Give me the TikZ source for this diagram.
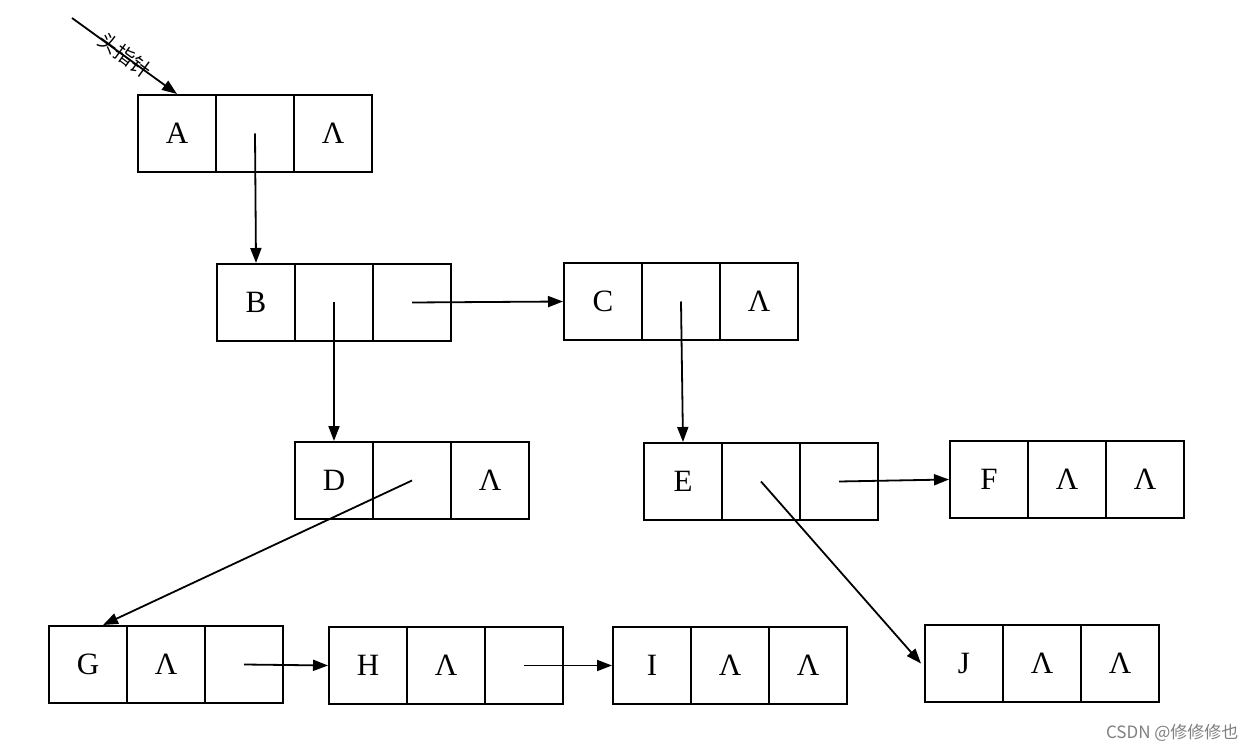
\documentclass[tikz,border=0pt]{standalone}
\usepackage{fontspec}
\setmainfont{Liberation Serif}
\newfontfamily\cjk{Noto Sans CJK SC}
\usetikzlibrary{arrows.meta,calc}
\newcommand\recfont{\fontsize{31}{36}\selectfont}
\newcommand\mkrec[6]{%
  \node[cell] (#1a) at (#2+39,#3+38.5) {#4};
  \node[cell] (#1b) at (#2+117,#3+38.5) {#5};
  \node[cell] (#1c) at (#2+195,#3+38.5) {#6};}
\tikzset{
  cell/.style={draw, line width=2pt, minimum width=78pt, minimum height=77pt, inner sep=0pt, font=\recfont},
  ptr/.style={line width=1.8pt, -{Triangle[length=15pt,width=11pt]}}
}
\begin{document}
\begin{tikzpicture}[x=1pt,y=-1pt]
\useasboundingbox (0,0) rectangle (1253,751);
\fill[white] (0,0) rectangle (1253,751);
\mkrec{A}{138}{95}{A}{}{Λ}
\mkrec{B}{217}{264}{B}{}{}
\mkrec{C}{564}{263}{C}{}{Λ}
\mkrec{D}{295}{442}{D}{}{Λ}
\mkrec{E}{644}{443}{E}{}{}
\mkrec{F}{950}{441}{F}{Λ}{Λ}
\mkrec{G}{49}{626}{G}{Λ}{}
\mkrec{H}{329}{627}{H}{Λ}{}
\mkrec{I}{613}{627}{I}{Λ}{Λ}
\mkrec{J}{925}{625}{J}{Λ}{Λ}
\coordinate (hp) at (72,18);
\draw[ptr] (hp) -- (Aa.north);
\node[font=\cjk\fontsize{20}{24}\selectfont, rotate=-36, inner sep=0.5pt] (hpl) at (125,55) {头指针};
\draw[ptr] (Ab.center) -- (Ba.north);
\draw[ptr] (Bc.center) -- (Ca.west);
\draw[ptr] (Bb.center) -- (Da.north);
\draw[ptr] (Cb.center) -- (Ea.north);
\draw[ptr] (Db.center) -- ($(Ga.north)+(15,0)$);
\draw[ptr] (Ec.center) -- (Fa.west);
\draw[ptr] (Eb.center) -- ($(Ja.west)+(-3,0)$);
\draw[ptr] (Gc.center) -- (Ha.west);
\draw[ptr] (Hc.center) -- (Ia.west);
\node[font=\cjk\fontsize{17}{20}\selectfont, text=gray, anchor=east] (wm) at (1242,733) {CSDN @修修修也};
\end{tikzpicture}
\end{document}
